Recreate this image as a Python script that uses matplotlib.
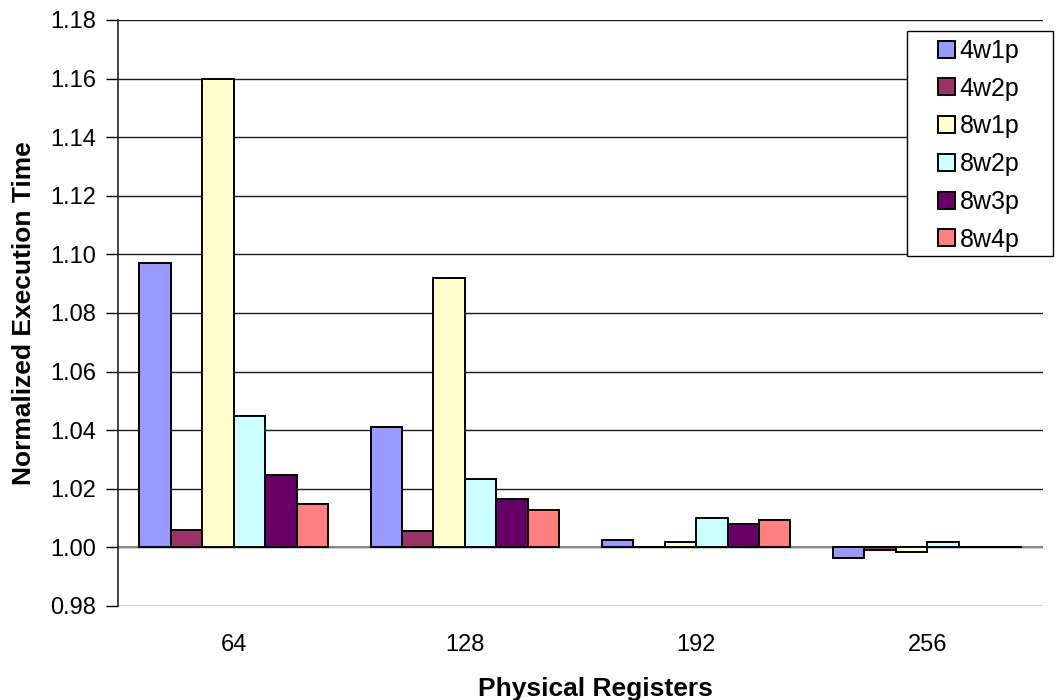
import matplotlib
matplotlib.use("Agg")
import matplotlib.pyplot as plt
from matplotlib.patches import Rectangle
import numpy as np

plt.rcParams['font.family'] = ['Liberation Sans', 'DejaVu Sans']

categories = ["64", "128", "192", "256"]
series = ["4w1p", "4w2p", "8w1p", "8w2p", "8w3p", "8w4p"]
values = {
    "4w1p": [1.097, 1.041, 1.0025, 0.9964],
    "4w2p": [1.006, 1.0055, 1.0000, 0.9992],
    "8w1p": [1.160, 1.092, 1.0018, 0.9984],
    "8w2p": [1.045, 1.0235, 1.0102, 1.0017],
    "8w3p": [1.0246, 1.0166, 1.0081, 1.0000],
    "8w4p": [1.0148, 1.0128, 1.0093, 1.0000],
}
colors = ["#9999FF", "#993366", "#FFFFCC", "#CCFFFF", "#660066", "#FF8080"]
yticks = [0.98, 1.00, 1.02, 1.04, 1.06, 1.08, 1.10, 1.12, 1.14, 1.16, 1.18]
base = 1.0

W, H = 1057, 700
fig = plt.figure(figsize=(W / 100, H / 100), dpi=100)
ax = fig.add_axes([118 / W, 1 - 606 / H, (1043 - 118) / W, (606 - 20) / H])

x = np.arange(len(categories))
width = 0.136
offsets = (np.arange(len(series)) - (len(series) - 1) / 2) * width
handles = []
for s, off, c in zip(series, offsets, colors):
    v = np.array(values[s])
    h = ax.bar(x + off, v - base, width, bottom=base, color=c,
               edgecolor="black", linewidth=1.4, label=s, zorder=3)
    handles.append(h)

ax.set_xlim(-0.5, len(categories) - 0.5)
ax.set_ylim(0.98, 1.18)
ax.set_yticks(yticks)
ax.set_yticklabels([f"{t:.2f}" for t in yticks], fontsize=17)
ax.yaxis.grid(True, color="#1a1a1a", linewidth=1.0, zorder=0)
ax.axhline(base, color="#888888", linewidth=1.5, zorder=2)

ax.set_xticks(x)
ax.set_xticklabels(categories, fontsize=17)
ax.tick_params(axis="x", length=0, pad=20)
ax.tick_params(axis="y", length=9, width=1, direction="out", pad=7)

for side in ["top", "right", "bottom"]:
    ax.spines[side].set_visible(False)
ax.spines["left"].set_color("#222222")
ax.spines["left"].set_linewidth(1.2)

fig.text(595 / W, 1 - 696 / H, "Physical Registers", fontsize=19,
         fontweight="bold", ha="center", va="baseline")
ax.set_ylabel("Normalized Execution Time", fontsize=19, fontweight="bold", labelpad=10)

# legend box outline
fig.patches.append(Rectangle((907 / W, 1 - 256 / H), (1053 - 907) / W, (256 - 31) / H,
                             transform=fig.transFigure, facecolor="white",
                             edgecolor="black", linewidth=1.0, zorder=4))
leg = fig.legend(handles=handles, labels=series, loc="upper left",
                 bbox_to_anchor=(938 / W, 1 - 39 / H), fontsize=18,
                 frameon=False, handlelength=0.67, handleheight=0.67,
                 handletextpad=0.2, labelspacing=0.55, borderpad=0,
                 borderaxespad=0)
leg.set_zorder(5)

fig.savefig("out.png", dpi=100, facecolor="white")
